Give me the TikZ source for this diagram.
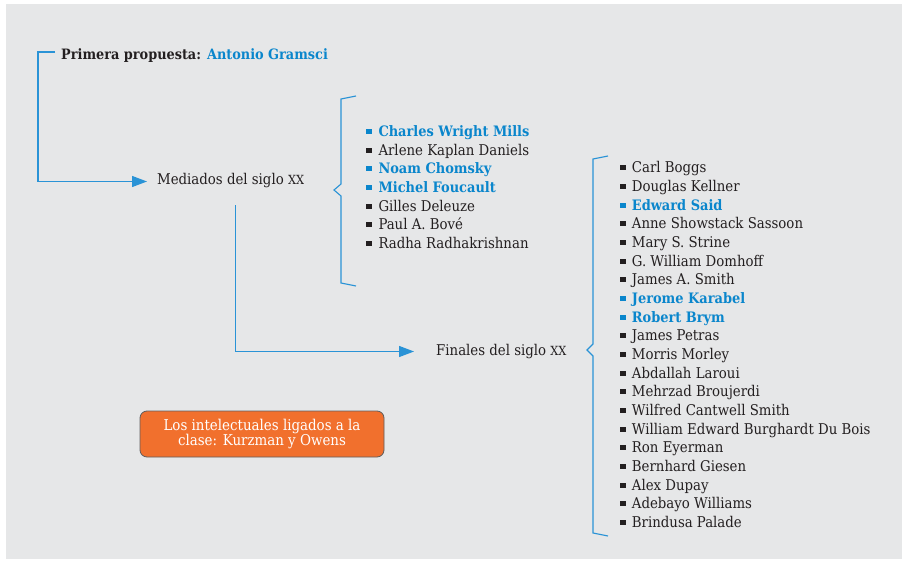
\documentclass[tikz,border=0pt]{standalone}
\usepackage{fontspec}
\setmainfont{DejaVu Serif Condensed}
\usetikzlibrary{arrows.meta}
\definecolor{panel}{HTML}{E6E7E8}
\definecolor{ink}{HTML}{231F20}
\definecolor{accent}{HTML}{0A86CC}
\definecolor{wire}{HTML}{2A93D6}
\definecolor{tag}{HTML}{F1702D}
\definecolor{tagedge}{HTML}{5E5E5E}
\newcommand{\cent}{{\fontsize{12.6}{12}\selectfont XX}}
\begin{document}
\begin{tikzpicture}[x=1pt,y=-1pt,
  txt/.style={inner sep=0pt, anchor=base west, text height=10pt, text depth=3pt,
    font=\fontsize{14.8}{18}\selectfont, text=ink},
  norm/.style={txt},
  hl/.style={txt, font=\fontsize{14.4}{18}\selectfont\bfseries, text=accent},
  norm dot/.style={fill=ink},
  hl dot/.style={fill=accent},
  conn/.style={draw=wire, line width=1.3pt, -{Triangle[length=15pt,width=11pt]}},
  bracket/.style={draw=wire, line width=1.1pt, line join=miter},
  tagbox/.style={fill=tag, draw=tagedge, line width=0.8pt, rounded corners=7pt,
    minimum width=244pt, minimum height=46pt, inner sep=0pt, align=center,
    text=white, font=\fontsize{14.9}{15}\selectfont}
]
% page and grey panel
\fill[white] (0,0) rectangle (902,561);
\fill[panel] (6,4) rectangle (902,559);

% headings
\node[txt, font=\fontsize{14.3}{18}\selectfont\bfseries] (prim) at (61,60)
  {Primera propuesta: \textcolor{accent}{Antonio Gramsci}};
\node[txt] (med) at (157,185) {Mediados del siglo \cent};
\node[txt] (fin) at (436,355) {Finales del siglo \cent};

% connectors
\draw[conn] ([xshift=-6pt,yshift=4.5pt]prim.west) -- ++(-17,0) |- ([xshift=-10pt]med.west);
\draw[conn] ([xshift=5pt,yshift=-17pt]med.south) |- ([xshift=-22pt]fin.west);

% braces
\draw[bracket] (356,96) -- (341,99) -- (341,184) -- (334,190) -- (341,196)
  -- (341,283) -- (356,286);
\draw[bracket] (608,156) -- (593,159) -- (593,344) -- (587,350) -- (593,356)
  -- (593,533) -- (608,536);

% mid-century list
\foreach \who/\kind [count=\k from 0] in {Charles Wright Mills/hl, Arlene Kaplan Daniels/norm,
    Noam Chomsky/hl, Michel Foucault/hl, Gilles Deleuze/norm, Paul A. Bové/norm,
    Radha Radhakrishnan/norm}{
  \pgfmathsetmacro\yb{136.7+18.6*\k}
  \fill[\kind\space dot] (366,\yb-7.5) rectangle ++(5.5,5);
  \node[\kind] (m\k) at (378.3,\yb) {\who};
}

% late-century list
\foreach \who/\kind [count=\k from 0] in {Carl Boggs/norm, Douglas Kellner/norm,
    Edward Said/hl, Anne Showstack Sassoon/norm, Mary S. Strine/norm,
    G. William Domhoff/norm, James A. Smith/norm, Jerome Karabel/hl, Robert Brym/hl,
    James Petras/norm, Morris Morley/norm, Abdallah Laroui/norm, Mehrzad Broujerdi/norm,
    Wilfred Cantwell Smith/norm, William Edward Burghardt Du Bois/norm, Ron Eyerman/norm,
    Bernhard Giesen/norm, Alex Dupay/norm, Adebayo Williams/norm, Brindusa Palade/norm}{
  \pgfmathsetmacro\yb{173+18.65*\k}
  \fill[\kind\space dot] (620,\yb-7.5) rectangle ++(5.5,5);
  \node[\kind] (f\k) at (631.7,\yb) {\who};
}

% note box
\node[tagbox] (note) at (262,434) {Los intelectuales ligados a la\\clase: Kurzman y Owens};
\end{tikzpicture}
\end{document}
